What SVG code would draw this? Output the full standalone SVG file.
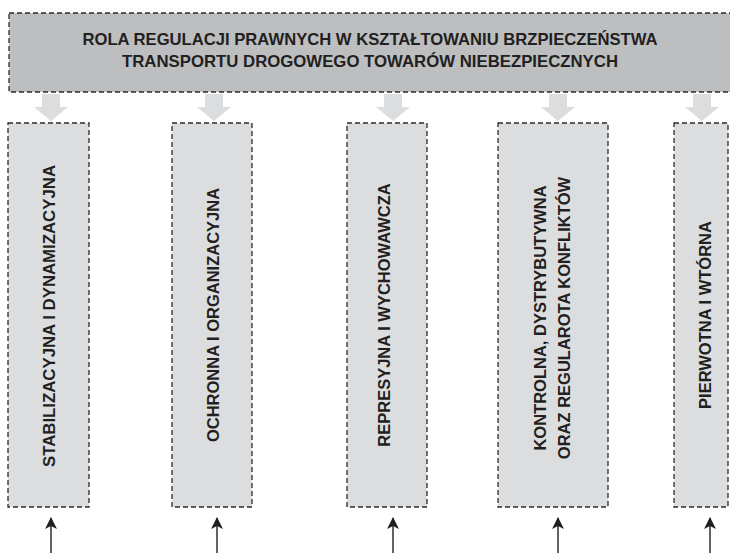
<svg xmlns="http://www.w3.org/2000/svg" width="730" height="553" viewBox="0 0 730 553">
<style>
.box{fill:#dcdddf;stroke:#2b2b2b;stroke-width:1.3;stroke-dasharray:5 3}
.top{fill:#bcbec0;stroke:#2b2b2b;stroke-width:1.3;stroke-dasharray:5 3}
.t{font-family:"Liberation Sans",Arial,sans-serif;font-weight:bold;font-size:16.5px;fill:#231f20;text-anchor:middle}
.ga{fill:#dcdddf}
.ln{stroke:#231f20;stroke-width:1.4;fill:none}
</style>
<defs>
<marker id="ah" viewBox="0 0 12 12" refX="11" refY="6" markerWidth="12" markerHeight="12" markerUnits="userSpaceOnUse" orient="auto">
<path d="M0,0 L12,6 L0,12 L3,6 Z" fill="#231f20"/>
</marker>
</defs>
<g id="title">
<rect class="top" x="9" y="13" width="740" height="79"/>
<text class="t" x="370" y="44.5" textLength="575" lengthAdjust="spacingAndGlyphs">ROLA REGULACJI PRAWNYCH W KSZTAŁTOWANIU BRZPIECZEŃSTWA</text>
<text class="t" x="370" y="67" textLength="496" lengthAdjust="spacingAndGlyphs">TRANSPORTU DROGOWEGO TOWARÓW NIEBEZPIECZNYCH</text>
</g>
<g id="connectors">
<polygon class="ga" points="42,94 60,94 60,107 68,107 51,121 34,107 42,107"/>
<polygon class="ga" points="205,94 223,94 223,107 231,107 214,121 197,107 205,107"/>
<polygon class="ga" points="384,94 402,94 402,107 410,107 393,121 376,107 384,107"/>
<polygon class="ga" points="549,94 567,94 567,107 575,107 558,121 541,107 549,107"/>
<polygon class="ga" points="693,94 711,94 711,107 719,107 702,121 685,107 693,107"/>
<line class="ln" x1="51" y1="553" x2="51" y2="518" marker-end="url(#ah)"/>
<line class="ln" x1="217" y1="553" x2="217" y2="518" marker-end="url(#ah)"/>
<line class="ln" x1="393" y1="553" x2="393" y2="518" marker-end="url(#ah)"/>
<line class="ln" x1="558" y1="553" x2="558" y2="518" marker-end="url(#ah)"/>
<line class="ln" x1="710" y1="553" x2="710" y2="518" marker-end="url(#ah)"/>
</g>
<g id="n1">
<rect class="box" x="8" y="123" width="81" height="384"/>
<text class="t" transform="translate(55,316) rotate(-90)" textLength="302" lengthAdjust="spacingAndGlyphs">STABILIZACYJNA I DYNAMIZACYJNA</text>
</g>
<g id="n2">
<rect class="box" x="172" y="123" width="80" height="384"/>
<text class="t" transform="translate(218.5,315) rotate(-90)">OCHRONNA I ORGANIZACYJNA</text>
</g>
<g id="n3">
<rect class="box" x="347" y="123" width="80" height="384"/>
<text class="t" transform="translate(389.5,315) rotate(-90)">REPRESYJNA I WYCHOWAWCZA</text>
</g>
<g id="n4">
<rect class="box" x="498" y="123" width="110" height="384"/>
<text class="t" transform="translate(546,318) rotate(-90)">KONTROLNA, DYSTRYBUTYWNA</text>
<text class="t" transform="translate(569.5,318) rotate(-90)">ORAZ REGULAROTA KONFLIKTÓW</text>
</g>
<g id="n5">
<rect class="box" x="674" y="123" width="54" height="384"/>
<text class="t" transform="translate(710.5,315) rotate(-90)">PIERWOTNA I WTÓRNA</text>
</g>
</svg>
